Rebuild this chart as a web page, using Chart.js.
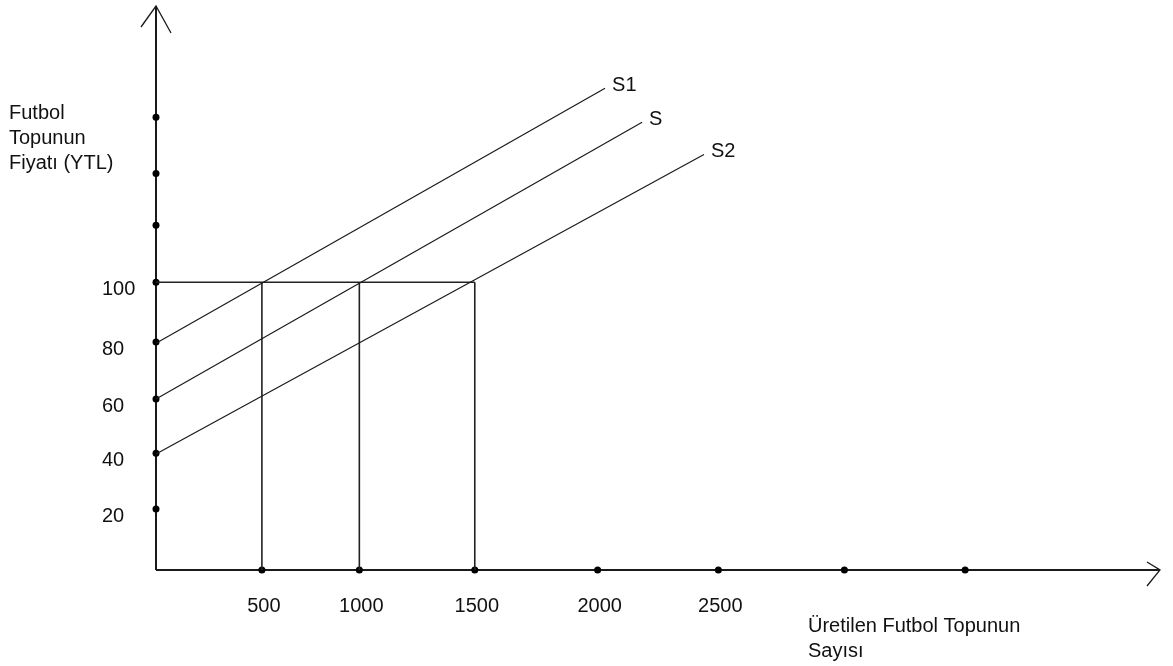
<!DOCTYPE html>
<html>
<head>
<meta charset="utf-8">
<script src="https://cdn.jsdelivr.net/npm/chart.js@4/dist/chart.umd.min.js"></script>
<style>
  html, body { margin: 0; padding: 0; background: #ffffff; }
  canvas { display: block; }
</style>
</head>
<body>
<canvas id="c" width="1173" height="666"></canvas>
<script>
// ---- data ----
const xTickLabels = ['500', '1000', '1500', '2000', '2500'];
const xDotValues = [500, 960, 1505, 2085, 2655, 3250, 3820];
const yTickLabels = ['20', '40', '60', '80', '100'];
const yDotValues = [21.2, 40.6, 59.4, 79.2, 100, 119.8, 137.8, 157.3];
const eqQuantities = [500, 960, 1505];
const eqPrice = 100;
const supplyNames = ['S1', 'S', 'S2'];
const supplyStartP = [78.8, 59.4, 40.3];
const supplyEndQ = [2120, 2295, 2587];
const supplyEndP = [167.4, 155.6, 144.4];
const yTitleLines = ['Futbol', 'Topunun', 'Fiyatı (YTL)'];
const xTitleLines = ['Üretilen Futbol Topunun', 'Sayısı'];
const xMax = 4740;
const yMax = 196;

const FONT = '20px "Liberation Sans", Arial, sans-serif';
const INK = '#111111';

const datasets = [];
// supply lines
supplyNames.forEach((n, i) => {
  datasets.push({
    label: n,
    data: [{x: 0, y: supplyStartP[i]}, {x: supplyEndQ[i], y: supplyEndP[i]}],
    showLine: true, borderColor: '#1a1a1a', borderWidth: 1.2,
    pointRadius: 0, clip: false
  });
});
// horizontal price line
datasets.push({
  label: 'price',
  data: [{x: 0, y: eqPrice}, {x: eqQuantities[eqQuantities.length - 1], y: eqPrice}],
  showLine: true, borderColor: '#222', borderWidth: 1.6, pointRadius: 0, clip: false
});
// vertical quantity lines
eqQuantities.forEach(q => {
  datasets.push({
    label: 'q' + q,
    data: [{x: q, y: eqPrice}, {x: q, y: 0}],
    showLine: true, borderColor: '#222', borderWidth: 1.6, pointRadius: 0, clip: false
  });
});
// axis dots
datasets.push({
  label: 'xdots',
  data: xDotValues.map(v => ({x: v, y: 0})),
  showLine: false, pointRadius: 3.5, pointBackgroundColor: '#000', pointBorderWidth: 0, clip: false
});
datasets.push({
  label: 'ydots',
  data: yDotValues.map(v => ({x: 0, y: v})),
  showLine: false, pointRadius: 3.5, pointBackgroundColor: '#000', pointBorderWidth: 0, clip: false
});

const axesPlugin = {
  id: 'axesPlugin',
  beforeDatasetsDraw(chart) {
    const ctx = chart.ctx;
    const xs = chart.scales.x, ys = chart.scales.y;
    const x0 = xs.getPixelForValue(0), y0 = ys.getPixelForValue(0);
    const xEnd = xs.getPixelForValue(xMax), yEnd = ys.getPixelForValue(yMax);
    ctx.save();
    ctx.strokeStyle = '#1a1a1a';
    ctx.lineWidth = 2;
    ctx.beginPath();
    ctx.moveTo(x0, y0); ctx.lineTo(x0, yEnd);
    ctx.moveTo(x0, y0); ctx.lineTo(xEnd, y0);
    ctx.stroke();
    // arrowheads
    ctx.lineWidth = 1.3;
    ctx.beginPath();
    ctx.moveTo(x0 - 15, yEnd + 21); ctx.lineTo(x0, yEnd); ctx.lineTo(x0 + 15, yEnd + 27);
    ctx.moveTo(xEnd - 13, y0 - 8); ctx.lineTo(xEnd, y0); ctx.lineTo(xEnd - 13, y0 + 16);
    ctx.stroke();
    ctx.restore();
  },
  afterDatasetsDraw(chart) {
    const ctx = chart.ctx;
    const xs = chart.scales.x, ys = chart.scales.y;
    const x0 = xs.getPixelForValue(0), y0 = ys.getPixelForValue(0);
    ctx.save();
    ctx.fillStyle = INK;
    ctx.font = FONT;
    ctx.textBaseline = 'middle';
    // y tick labels
    ctx.textAlign = 'left';
    yTickLabels.forEach((t, i) => {
      ctx.fillText(t, x0 - 54, ys.getPixelForValue(yDotValues[i]) + 7);
    });
    // x tick labels
    ctx.textAlign = 'center';
    xTickLabels.forEach((t, i) => {
      ctx.fillText(t, xs.getPixelForValue(xDotValues[i]) + 2, y0 + 36);
    });
    // supply labels
    ctx.textAlign = 'left';
    supplyNames.forEach((n, i) => {
      ctx.fillText(n, xs.getPixelForValue(supplyEndQ[i]) + 7, ys.getPixelForValue(supplyEndP[i]) - 3);
    });
    // y title
    yTitleLines.forEach((t, i) => {
      ctx.fillText(t, x0 - 147, ys.getPixelForValue(yMax) + 107 + i * 25);
    });
    // x title
    xTitleLines.forEach((t, i) => {
      ctx.fillText(t, x0 + 652, y0 + 56 + i * 25);
    });
    ctx.restore();
  }
};

new Chart(document.getElementById('c'), {
  type: 'scatter',
  data: { datasets },
  options: {
    responsive: false,
    animation: false,
    layout: { padding: { left: 156, top: 6, right: 13, bottom: 96 } },
    plugins: { legend: { display: false }, tooltip: { enabled: false } },
    scales: {
      x: { type: 'linear', min: 0, max: xMax, display: false },
      y: { type: 'linear', min: 0, max: yMax, display: false }
    }
  },
  plugins: [axesPlugin]
});
</script>
</body>
</html>
